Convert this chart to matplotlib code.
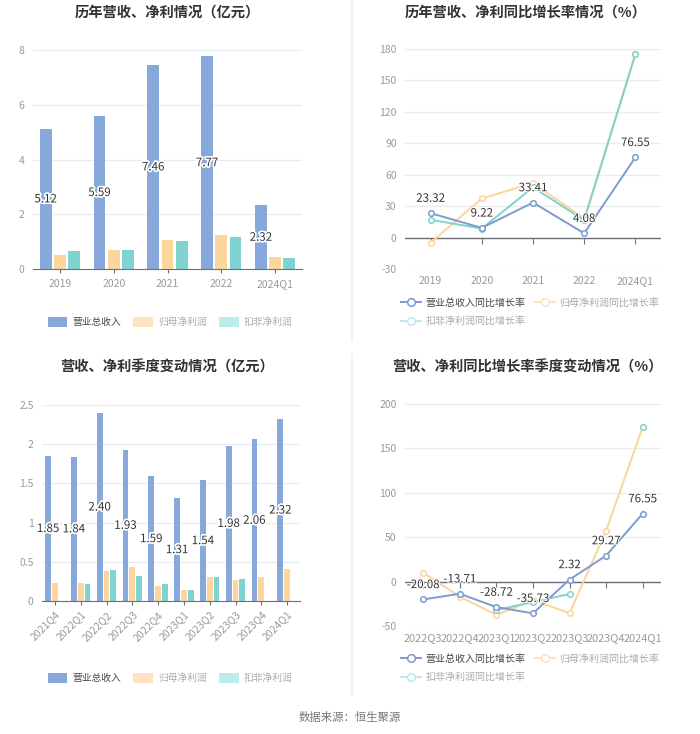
import numpy as np
import matplotlib
matplotlib.use("Agg")
import matplotlib.pyplot as plt
import matplotlib.patheffects as pe
from matplotlib.patches import Patch
from matplotlib.lines import Line2D

plt.rcParams['font.family'] = ['Noto Sans CJK SC', 'DejaVu Sans']
plt.rcParams['axes.unicode_minus'] = False

# ---------------- data ----------------
years = ['2019', '2020', '2021', '2022', '2024Q1']
rev_y = [5.12, 5.59, 7.46, 7.77, 2.32]
np_y = [0.52, 0.70, 1.07, 1.25, 0.43]
ded_y = [0.64, 0.70, 1.03, 1.17, 0.41]

rev_yoy = [23.32, 9.22, 33.41, 4.08, 76.55]
np_yoy = [-5.0, 37.3, 52.0, 18.0, 175.0]
ded_yoy = [17.0, 8.6, 48.0, 16.5, 175.0]

quarters = ['2021Q4', '2022Q1', '2022Q2', '2022Q3', '2022Q4',
            '2023Q1', '2023Q2', '2023Q3', '2023Q4', '2024Q1']
rev_q = [1.85, 1.84, 2.40, 1.93, 1.59, 1.31, 1.54, 1.98, 2.06, 2.32]
np_q = [0.23, 0.235, 0.387, 0.43, 0.186, 0.145, 0.31, 0.27, 0.30, 0.41]
ded_q = [np.nan, 0.217, 0.40, 0.32, 0.217, 0.135, 0.31, 0.275, np.nan, np.nan]

quarters_yoy = ['2022Q3', '2022Q4', '2023Q1', '2023Q2', '2023Q3', '2023Q4', '2024Q1']
rev_qyoy = [-20.08, -13.71, -28.72, -35.73, 2.32, 29.27, 76.55]
np_qyoy = [10.0, -17.0, -37.5, -21.0, -35.5, 57.5, 174.0]
ded_qyoy = [np.nan, np.nan, -32.0, -23.0, -14.0, np.nan, 174.0]

bar_names = ['营业总收入', '归母净利润', '扣非净利润']
line_names = ['营业总收入同比增长率', '归母净利润同比增长率', '扣非净利润同比增长率']
titles = ['历年营收、净利情况（亿元）', '历年营收、净利同比增长率情况（%）',
          '营收、净利季度变动情况（亿元）', '营收、净利同比增长率季度变动情况（%）']
source = '数据来源：恒生聚源'

# ---------------- style ----------------
C_REV = '#87a8da'
C_NP = '#fdd69e'
C_DED = '#7fd4d1'
L_REV = '#7d9bd1'
L_NP = '#fbd59a'
L_DED = '#80d3c8'
GRID = '#e8ebf1'
AXC = '#6e7079'
TICKC = '#9a9a9a'
TXT = '#333333'

W, H = 700, 734
fig = plt.figure(figsize=(7, 7.34), dpi=100)
fig.patch.set_facecolor('white')


def add_ax(x0, x1, y0, y1):
    return fig.add_axes([x0 / W, 1 - y1 / H, (x1 - x0) / W, (y1 - y0) / H])


halo = [pe.withStroke(linewidth=2.5, foreground='white')]


def style_common(ax, ylim, yticks, ylabels, xls=7.5):
    ax.set_ylim(*ylim)
    ax.set_yticks(yticks)
    ax.set_yticklabels(ylabels)
    ax.grid(axis='y', color=GRID, linewidth=0.9)
    ax.set_axisbelow(True)
    for s in ['top', 'right', 'left']:
        ax.spines[s].set_visible(False)
    ax.tick_params(axis='y', length=0, colors=TICKC, labelsize=7.5, pad=6)
    ax.tick_params(axis='x', colors=TICKC, labelsize=xls)


def bar_chart(ax, cats, rev, npv, ded, ylim, yticks, ylabels, rotate=False):
    x = np.arange(len(cats))
    bw = 0.22
    off = 0.265
    ax.bar(x - off, rev, bw, color=C_REV, zorder=2)
    ax.bar(x, npv, bw, color=C_NP, zorder=2)
    ax.bar(x + off, ded, bw, color=C_DED, zorder=2)
    for xi, v in zip(x, rev):
        ax.text(xi - off, v / 2, f'{v:.2f}', ha='center', va='center',
                fontsize=8.3, color=TXT, path_effects=halo, zorder=5)
    ax.set_xlim(-0.5, len(cats) - 0.5)
    style_common(ax, ylim, yticks, ylabels)
    ax.spines['bottom'].set_color(AXC)
    ax.set_xticks(x)
    if rotate:
        ax.set_xticklabels(cats, rotation=45, ha='right', rotation_mode='anchor')
        ax.tick_params(axis='x', length=3, color=AXC, pad=3)
    else:
        ax.set_xticklabels(cats)
        ax.tick_params(axis='x', length=3, color=AXC, pad=4)


def line_chart(ax, cats, rev, npv, ded, ylim, yticks, ylabels, xls=7.5):
    x = np.arange(len(cats))
    mk = dict(marker='o', markersize=4, markerfacecolor='white', markeredgewidth=1.1)
    ax.plot(x, npv, color=L_NP, lw=1.4, markeredgecolor=L_NP, zorder=3, **mk)
    ax.plot(x, ded, color=L_DED, lw=1.4, markeredgecolor=L_DED, zorder=4, **mk)
    ax.plot(x, rev, color=L_REV, lw=1.4, markeredgecolor=L_REV, zorder=5, **mk)
    for xi, v in zip(x, rev):
        ax.annotate(f'{v:.2f}', (xi, v), xytext=(0, 6), textcoords='offset points',
                    ha='center', va='bottom', fontsize=8.3, color=TXT, zorder=6,
                    path_effects=[pe.withStroke(linewidth=1.5, foreground='white')])
    ax.set_xlim(-0.5, len(cats) - 0.5)
    style_common(ax, ylim, yticks, ylabels, xls=xls)
    ax.spines['bottom'].set_visible(False)
    ax.set_xticks(x)
    ax.set_xticklabels(cats)
    ax.tick_params(axis='x', length=0, pad=5)
    ax.axhline(0, color=AXC, lw=1.0, zorder=2)
    sec = ax.secondary_xaxis(0, transform=ax.transData)
    sec.set_xticks(x)
    sec.set_xticklabels([])
    sec.tick_params(axis='x', length=4, color=AXC, width=0.8)
    sec.spines['bottom'].set_visible(False)


# chart 1
ax1 = add_ax(33, 302, 50, 269)
bar_chart(ax1, years, rev_y, np_y, ded_y, (0, 8), [0, 2, 4, 6, 8], ['0', '2', '4', '6', '8'])

# chart 2
ax2 = add_ax(405, 661, 49, 269)
yt2 = list(range(-30, 181, 30))
line_chart(ax2, years, rev_yoy, np_yoy, ded_yoy, (-30, 180), yt2, [str(v) for v in yt2])

# chart 3
ax3 = add_ax(42, 300, 405, 601)
bar_chart(ax3, quarters, rev_q, np_q, ded_q, (0, 2.5), [0, 0.5, 1, 1.5, 2, 2.5],
          ['0', '0.5', '1', '1.5', '2', '2.5'], rotate=True)

# chart 4
ax4 = add_ax(405, 661, 404, 626)
yt4 = list(range(-50, 201, 50))
line_chart(ax4, quarters_yoy, rev_qyoy, np_qyoy, ded_qyoy, (-50, 200), yt4,
           [str(v) for v in yt4], xls=7.9)

# titles
for (cx, cy), t in zip([(167, 13), (526, 13), (167, 367), (527, 367)], titles):
    fig.text(cx / W, 1 - cy / H, t, ha='center', va='center', fontsize=10.3,
             fontweight='bold', color=TXT)


# legends
def bar_legend(cy):
    handles = [Patch(facecolor=C_REV, edgecolor='none'),
               Patch(facecolor='#fde3bf', edgecolor='none'),
               Patch(facecolor='#b9ecea', edgecolor='none')]
    leg = fig.legend(handles, bar_names, loc='center', ncol=3,
                     bbox_to_anchor=(170 / W, 1 - cy / H), bbox_transform=fig.transFigure,
                     frameon=False, fontsize=7, handlelength=2.0, handleheight=1.25,
                     handletextpad=0.5, columnspacing=1.3)
    for i, tx in enumerate(leg.get_texts()):
        tx.set_color('#444444' if i == 0 else '#aaaaaa')


def line_legend(cy):
    mk = dict(marker='o', markersize=5.5, markerfacecolor='white', markeredgewidth=1.1)
    h1 = Line2D([], [], color=L_REV, markeredgecolor=L_REV, lw=1.4, **mk)
    h2 = Line2D([], [], color='#fde3bf', markeredgecolor='#fde3bf', lw=1.4, **mk)
    h3 = Line2D([], [], color='#bde8ec', markeredgecolor='#bde8ec', lw=1.4, **mk)
    leg = fig.legend([h1, h3, h2], [line_names[0], line_names[2], line_names[1]],
                     loc='center', ncol=2,
                     bbox_to_anchor=(530 / W, 1 - cy / H), bbox_transform=fig.transFigure,
                     frameon=False, fontsize=7.2, handlelength=2.0,
                     handletextpad=0.5, columnspacing=0.9, labelspacing=0.85)
    for tx in leg.get_texts():
        tx.set_color('#444444' if tx.get_text() == line_names[0] else '#aaaaaa')


bar_legend(322)
bar_legend(678)
line_legend(312)
line_legend(668)

# dividers
fig.add_artist(Line2D([352 / W, 352 / W], [1 - 0 / H, 1 - 340 / H], transform=fig.transFigure,
                      color='#f1f1f1', lw=1.5))
fig.add_artist(Line2D([352 / W, 352 / W], [1 - 355 / H, 1 - 695 / H], transform=fig.transFigure,
                      color='#f1f1f1', lw=1.5))

fig.text(0.5, 1 - 717 / H, source, ha='center', va='center', fontsize=8.2, color='#777777')

fig.savefig('out.png', dpi=100, facecolor='white')
